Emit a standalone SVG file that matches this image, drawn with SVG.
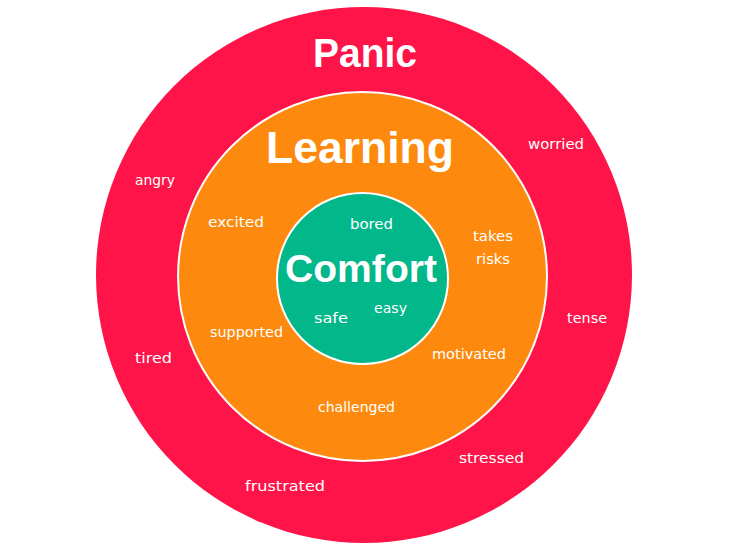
<svg xmlns="http://www.w3.org/2000/svg" width="735" height="551" viewBox="0 0 735 551">
<style>
.ring{stroke:#fff;stroke-width:2}
.t{font-family:"DejaVu Sans","Noto Sans",sans-serif;fill:#fff;font-size:14.5px;text-anchor:start}
.s{font-size:13.5px}
.h{font-family:"Liberation Sans",Arial,sans-serif;fill:#fff;font-weight:bold}
</style>
<rect width="735" height="551" fill="#fff"/>
<g id="panic">
<circle cx="364" cy="275" r="268" fill="#FE1448"/>
<text class="h" x="313" y="67" font-size="40" textLength="104" lengthAdjust="spacingAndGlyphs">Panic</text>
<text class="t" x="135" y="185" textLength="40" lengthAdjust="spacingAndGlyphs">angry</text>
<text class="t" x="528" y="149" textLength="56" lengthAdjust="spacingAndGlyphs">worried</text>
<text class="t" x="567" y="323" textLength="40" lengthAdjust="spacingAndGlyphs">tense</text>
<text class="t" x="135" y="363" textLength="37" lengthAdjust="spacingAndGlyphs">tired</text>
<text class="t" x="459" y="463" textLength="65" lengthAdjust="spacingAndGlyphs">stressed</text>
<text class="t" x="245" y="491" textLength="80" lengthAdjust="spacingAndGlyphs">frustrated</text>
</g>
<g id="learning">
<circle class="ring" cx="362.5" cy="276.5" r="184.5" fill="#FD8A0E"/>
<text class="h" x="266" y="163" font-size="44" textLength="188" lengthAdjust="spacingAndGlyphs">Learning</text>
<text class="t" x="208" y="227" textLength="56" lengthAdjust="spacingAndGlyphs">excited</text>
<text class="t s" x="473" y="241" textLength="40" lengthAdjust="spacingAndGlyphs">takes</text>
<text class="t s" x="476" y="264" textLength="34" lengthAdjust="spacingAndGlyphs">risks</text>
<text class="t" x="210" y="337" textLength="73" lengthAdjust="spacingAndGlyphs">supported</text>
<text class="t" x="432" y="359" textLength="74" lengthAdjust="spacingAndGlyphs">motivated</text>
<text class="t" x="318" y="412" textLength="77" lengthAdjust="spacingAndGlyphs">challenged</text>
</g>
<g id="comfort">
<circle class="ring" cx="362.5" cy="278.5" r="85.5" fill="#02B78A"/>
<text class="h" x="285" y="282" font-size="39" textLength="152" lengthAdjust="spacingAndGlyphs">Comfort</text>
<text class="t" x="350" y="229" textLength="43" lengthAdjust="spacingAndGlyphs">bored</text>
<text class="t" x="314" y="323" textLength="34" lengthAdjust="spacingAndGlyphs">safe</text>
<text class="t" x="374" y="313" textLength="33" lengthAdjust="spacingAndGlyphs">easy</text>
</g>
<g id="connectors"></g>
</svg>
